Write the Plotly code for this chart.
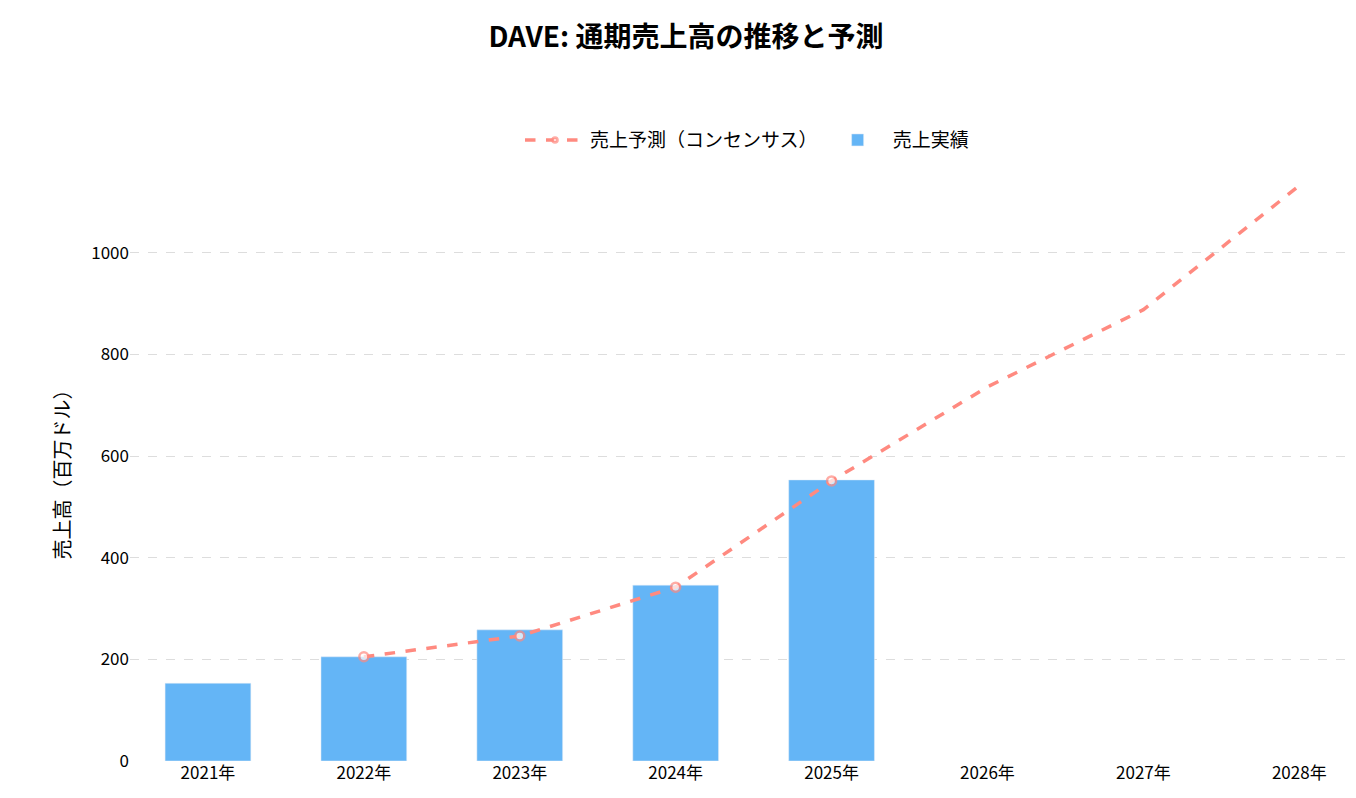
import plotly.graph_objects as go

years = ["2021年","2022年","2023年","2024年","2025年","2026年","2027年","2028年"]
actual = [153, 205, 258, 346, 553]
forecast_years = ["2022年","2023年","2024年","2025年","2026年","2027年","2028年"]
forecast = [205, 246, 342, 551, 736, 888, 1132]
marker_sizes = [9, 9, 9, 9, 0, 0, 0]

F = "Noto Sans CJK JP"
fig = go.Figure()
fig.add_trace(go.Bar(x=years[:5], y=actual, name="売上実績", marker_color="#64B5F6", width=0.55))
fig.add_trace(go.Scatter(x=forecast_years, y=forecast, name="売上予測（コンセンサス）", mode="lines+markers",
                         line=dict(color="#FF8A80", width=3.5, dash="dash"),
                         marker=dict(size=marker_sizes, color="white", line=dict(color="#FF8A80", width=2.5))))
fig.update_layout(
    width=1356, height=798, plot_bgcolor="white", paper_bgcolor="white",
    font=dict(family=F, size=17, color="black"),
    title=dict(text="<b>DAVE: 通期売上高の推移と予測</b>", x=0.5, y=0.963, xanchor="center", yanchor="middle", font=dict(size=28)),
    legend=dict(orientation="h", x=0.5, xanchor="center", y=1.065, yanchor="middle", font=dict(size=19),
                traceorder="reversed", itemwidth=60),
    margin=dict(l=122, r=0, t=170, b=45),
    bargap=0.45,
    xaxis=dict(categoryorder="array", categoryarray=years, showgrid=False, showline=False, ticks=""),
    yaxis=dict(title=dict(text="売上高（百万ドル）", font=dict(size=20)), range=[0, 1147], dtick=200,
               gridcolor="#DDDDDD", griddash="dash", zeroline=False, showline=False),
)
fig.write_html("out.html")
